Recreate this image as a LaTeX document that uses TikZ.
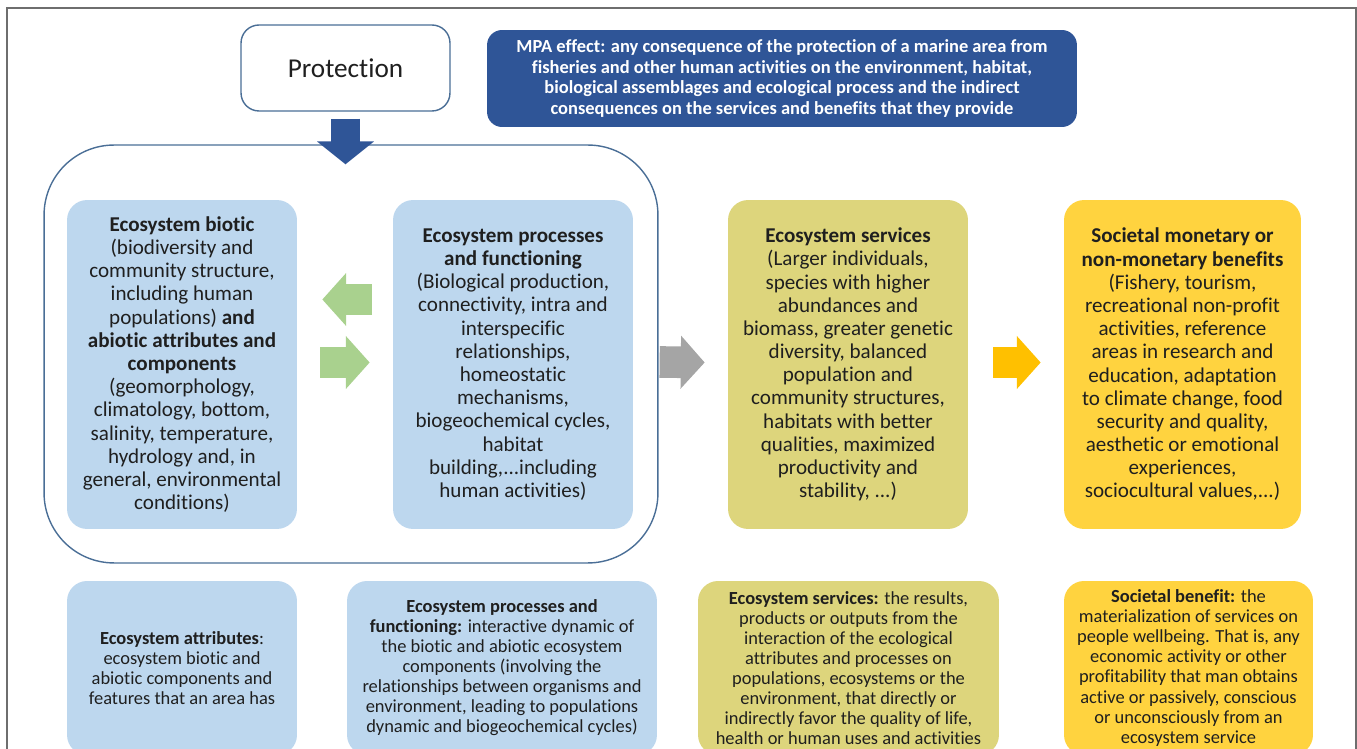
\documentclass[tikz,border=0pt]{standalone}
\usepackage{fontspec}
\setmainfont{Carlito}[Ligatures=NoCommon]
\usetikzlibrary{arrows.meta,calc}
\definecolor{mpablue}{HTML}{2F5597}
\definecolor{edgeblue}{HTML}{4A6E96}
\definecolor{lightblue}{HTML}{BDD7EE}
\definecolor{arrowgreen}{HTML}{A9D18E}
\definecolor{arrowgray}{HTML}{A5A5A5}
\definecolor{olive}{HTML}{DDD57C}
\definecolor{amber}{HTML}{FFC000}
\definecolor{gold}{HTML}{FFD33F}
\definecolor{framegray}{HTML}{6E6E6E}
\definecolor{txt}{HTML}{1F1F1F}

\begin{document}
\begin{tikzpicture}[x=0.02cm,y=-0.02cm,
  box/.style={rounded corners=0.4cm,align=center,inner sep=0pt,text=txt,
    font=\fontsize{12}{13.2}\selectfont},
  defbox/.style={box,font=\fontsize{10.5}{11.4}\selectfont},
  blockarrow/.style={line width=18pt,-{Triangle[length=13.6pt,width=29.5pt]}}]
\clip (0,0) rectangle (1357,749);
\draw[framegray,line width=1.2pt] (7,8) rectangle (1356,800);

\node[box,draw=edgeblue,line width=0.8pt,fill=white,rounded corners=0.36cm,
  minimum width=4.18cm,minimum height=1.72cm,font=\fontsize{15.5}{18}\selectfont]
  (prot) at (345.5,68) {Protection};
\node[box,fill=mpablue,text=white,rounded corners=0.3cm,minimum width=11.8cm,
  minimum height=1.94cm,font=\fontsize{10.5}{11.8}\selectfont\bfseries]
  (mpa) at (782,78.5) {MPA effect: any consequence of the protection of a marine area from\\
  fisheries and other human activities on the environment, habitat,\\
  biological assemblages and ecological process and the indirect\\
  consequences on the services and benefits that they provide};

\node[draw=edgeblue,line width=0.8pt,rounded corners=1.4cm,minimum width=12.28cm,
  minimum height=8.36cm] (frame) at (351,354) {};

\node[box,fill=lightblue,minimum width=4.6cm,minimum height=6.58cm] (biotic) at (182,364.5)
  {\textbf{Ecosystem biotic}\\(biodiversity and\\community structure,\\including human\\
  populations) \textbf{and}\\\textbf{abiotic attributes and}\\\textbf{components}\\
  (geomorphology,\\climatology, bottom,\\salinity, temperature,\\hydrology and, in\\
  general, environmental\\conditions)};
\node[box,fill=lightblue,minimum width=4.8cm,minimum height=6.58cm] (proc) at (513,364.5)
  {\textbf{Ecosystem processes}\\\textbf{and functioning}\\(Biological production,\\
  connectivity, intra and\\interspecific\\relationships,\\homeostatic\\mechanisms,\\
  biogeochemical cycles,\\habitat\\building,...including\\human activities)};
\node[box,fill=olive,minimum width=4.8cm,minimum height=6.58cm] (serv) at (848,364.5)
  {\textbf{Ecosystem services}\\(Larger individuals,\\species with higher\\abundances and\\
  biomass, greater genetic\\diversity, balanced\\population and\\community structures,\\
  habitats with better\\qualities, maximized\\productivity and\\stability, ...)};
\node[box,fill=gold,minimum width=4.74cm,minimum height=6.58cm] (benef) at (1182.5,364.5)
  {\textbf{Societal monetary or}\\\textbf{non-monetary benefits}\\(Fishery, tourism,\\
  recreational non-profit\\activities, reference\\areas in research and\\
  education, adaptation\\to climate change, food\\security and quality,\\
  aesthetic or emotional\\experiences,\\sociocultural values,...)};

\node[defbox,fill=lightblue,minimum width=4.6cm,minimum height=3.48cm] (attrdef) at (182,668)
  {\textbf{Ecosystem attributes}:\\ecosystem biotic and\\abiotic components and\\
  features that an area has};
\node[defbox,fill=lightblue,minimum width=6.2cm,minimum height=3.48cm] (procdef) at (502,668)
  {\textbf{Ecosystem processes and}\\\textbf{functioning:} interactive dynamic of\\
  the biotic and abiotic ecosystem\\components (involving the\\
  relationships between organisms and\\environment, leading to populations\\
  dynamic and biogeochemical cycles)};
\node[defbox,fill=olive,minimum width=6.02cm,minimum height=3.48cm] (servdef) at (848.5,668)
  {\textbf{Ecosystem services:} the results,\\products or outputs from the\\
  interaction of the ecological\\attributes and processes on\\populations, ecosystems or the\\
  environment, that directly or\\indirectly favor the quality of life,\\
  health or human uses and activities};
\node[defbox,fill=gold,minimum width=4.98cm,minimum height=3.48cm] (benefdef) at (1188.5,668)
  {\textbf{Societal benefit:} the\\materialization of services on\\people wellbeing. That is, any\\
  economic activity or other\\profitability that man obtains\\active or passively, conscious\\
  or unconsciously from an\\ecosystem service};

\draw[blockarrow,mpablue,line width=17pt,-{Triangle[length=13pt,width=31.7pt]}]
  ($(prot.south)+(0,7)$) -- ($(prot.south |- frame.north)+(0,20)$);
\draw[blockarrow,arrowgreen] ($(proc.west)+(-21,-65)$) -- ($(biotic.east)+(25,-65)$);
\draw[blockarrow,arrowgreen] ($(biotic.east)+(23,-2)$) -- ($(proc.west)+(-23,-2)$);
\draw[blockarrow,arrowgray] ($(frame.east)+(1,8)$) -- ($(serv.west)+(-23,-2)$);
\draw[blockarrow,amber] ($(serv.east)+(25,-2)$) -- ($(benef.west)+(-23,-2)$);
\end{tikzpicture}
\end{document}
